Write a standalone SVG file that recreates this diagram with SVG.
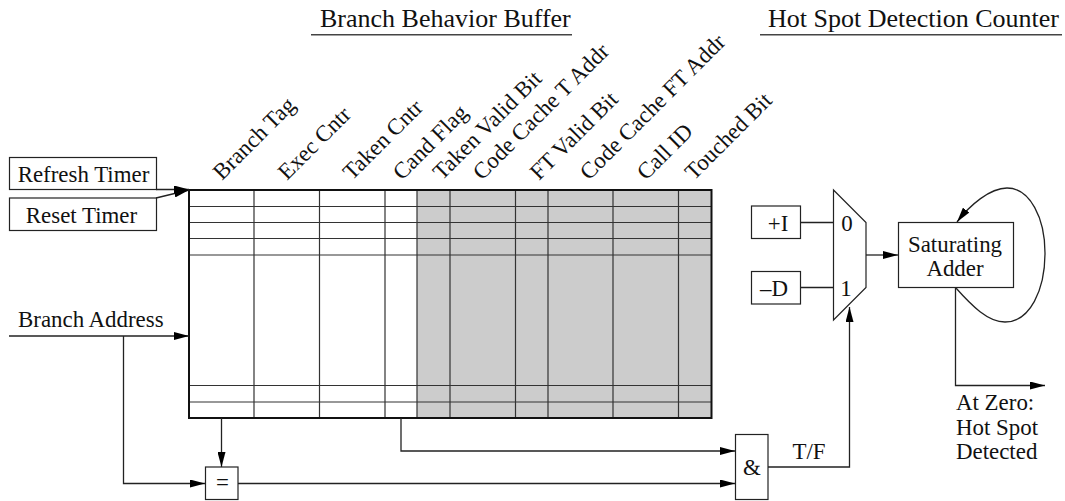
<svg xmlns="http://www.w3.org/2000/svg" width="1065" height="501" viewBox="0 0 1065 501">
<defs>
<style>
text{font-family:"Liberation Serif","Times New Roman",serif;font-size:22.9px;fill:#111}
.t{font-size:26px}
.m{text-anchor:middle}
.b{fill:#fff;stroke:#222;stroke-width:1.2}
.l{fill:none;stroke:#444;stroke-width:1.4}
.c{fill:none;stroke:#222;stroke-width:1.3}
.g{stroke:#333;stroke-width:1.2}
</style>
<marker id="a" markerUnits="userSpaceOnUse" markerWidth="16" markerHeight="8" refX="15" refY="4" orient="auto"><path d="M0 0L15 4L0 8z" fill="#000"/></marker>
</defs>
<rect width="1065" height="501" fill="#fff"/>
<g id="title-bbb"><text class="t" x="320" y="26.700">Branch Behavior Buffer</text><path class="l" d="M311 34.700H572"/></g>
<g id="title-hsdc"><text class="t" x="768" y="26.700">Hot Spot Detection Counter</text><path class="l" d="M760 34.700H1062"/></g>
<g id="table">
<rect x="417" y="190" width="294.500" height="228" fill="#ccc"/>
<path class="g" d="M189 206.500H711M189 222.500H711M189 238.500H711M189 255H711M189 385.500H711M189 402H711M254 190V418M319.500 190V418M385 190V418M417 190V418M450 190V418M515.500 190V418M548 190V418M613 190V418M678.500 190V418"/>
<rect x="189" y="190" width="522.500" height="228" fill="none" stroke="#111" stroke-width="2"/>
</g>
<g id="headers">
<text transform="translate(222 181) rotate(-45)">Branch Tag</text>
<text transform="translate(287 181) rotate(-45)">Exec Cntr</text>
<text transform="translate(352 181) rotate(-45)">Taken Cntr</text>
<text transform="translate(402 181) rotate(-45)">Cand Flag</text>
<text transform="translate(442 181) rotate(-45)">Taken Valid Bit</text>
<text transform="translate(482 181) rotate(-45)">Code Cache T Addr</text>
<text transform="translate(539 181) rotate(-45)">FT Valid Bit</text>
<text transform="translate(589 181) rotate(-45)">Code Cache FT Addr</text>
<text transform="translate(646 181) rotate(-45)">Call ID</text>
<text transform="translate(694 181) rotate(-45)">Touched Bit</text>
</g>
<g id="connectors">
<path class="c" d="M156 189.500H189" marker-end="url(#a)"/>
<path class="c" d="M156 198L189 190" marker-end="url(#a)"/>
<path class="c" d="M9 336H189" marker-end="url(#a)"/>
<path class="c" d="M123.500 336V483.500H205" marker-end="url(#a)"/>
<path class="c" d="M221.500 418V467" marker-end="url(#a)"/>
<path class="c" d="M238 483.500H735" marker-end="url(#a)"/>
<path class="c" d="M401 418V451H735" marker-end="url(#a)"/>
<path class="c" d="M768 467H849.500V307" marker-end="url(#a)"/>
<path class="c" d="M800.500 222.500H833M800.500 287.500H833"/>
<path class="c" d="M866 255H898" marker-end="url(#a)"/>
<path class="c" d="M955.500 287.500V385.500H1045" marker-end="url(#a)"/>
<path class="c" d="M955.500 287.500C972 306 988 322 1005 322C1030 322 1045 290 1045 253C1045 218 1030 188 1007 188C990 188 970 205 957 222" marker-end="url(#a)"/>
</g>
<g id="refresh-timer"><rect class="b" x="9.500" y="157.500" width="147" height="32"/><text class="m" x="83.500" y="182">Refresh Timer</text></g>
<g id="reset-timer"><rect class="b" x="9.500" y="198" width="147" height="32.500"/><text class="m" x="81.500" y="223">Reset Timer</text></g>
<g id="branch-address"><text x="18" y="327">Branch Address</text></g>
<g id="equal"><rect class="b" x="205.500" y="467" width="32.500" height="32.500"/><text class="m" x="222.500" y="490">=</text></g>
<g id="and"><rect class="b" x="735.500" y="434.500" width="32.500" height="65"/><text class="m" x="752" y="475">&amp;</text></g>
<g id="tf"><text class="m" x="809" y="459">T/F</text></g>
<g id="plus-i"><rect class="b" x="751.500" y="206" width="49" height="32.500"/><text class="m" x="778" y="231">+I</text></g>
<g id="minus-d"><rect class="b" x="751.500" y="271.500" width="49" height="32.500"/><text class="m" x="774" y="296">–D</text></g>
<g id="mux"><path class="b" d="M833.500 190L866 222.500V287.500L833.500 320Z"/><text class="m" x="847" y="231">0</text><text class="m" x="846" y="296">1</text></g>
<g id="adder"><rect class="b" x="898.500" y="222.500" width="115" height="65"/><text class="m" x="955" y="251.500">Saturating</text><text class="m" x="955" y="276">Adder</text></g>
<g id="at-zero"><text x="956" y="410">At Zero:</text><text x="956" y="435">Hot Spot</text><text x="956" y="459">Detected</text></g>
</svg>
